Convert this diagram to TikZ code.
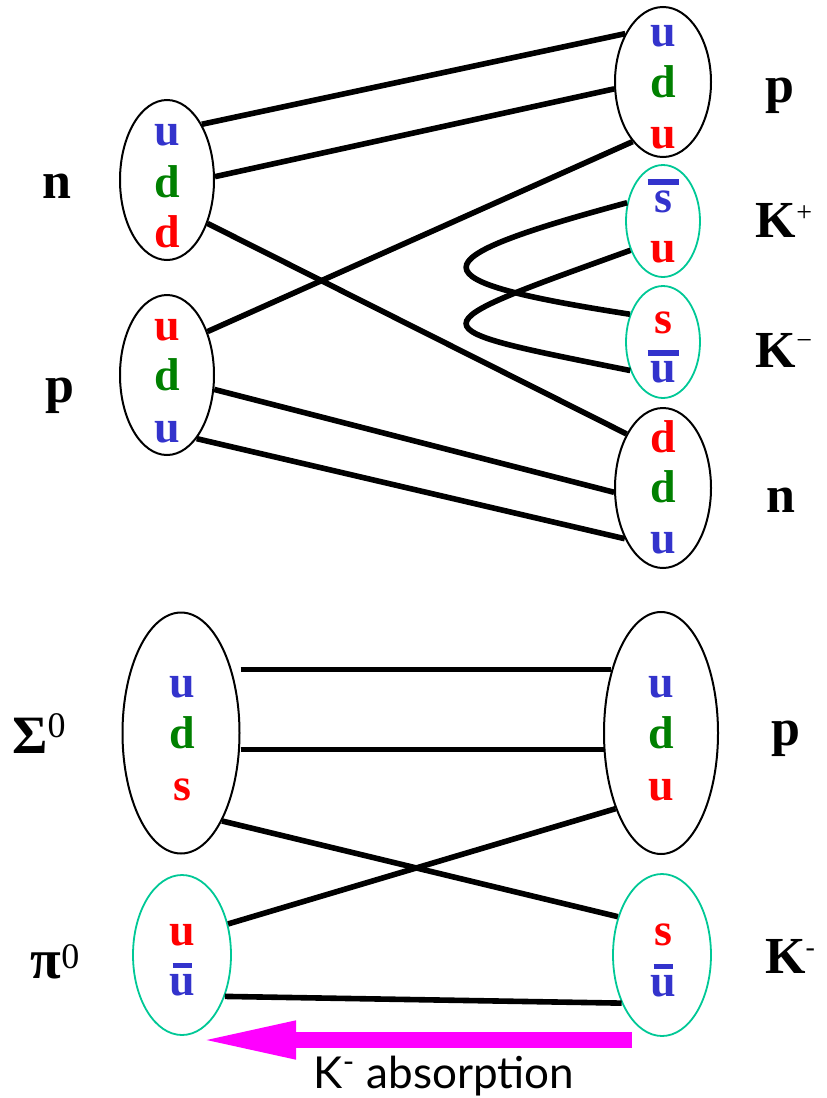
\documentclass[tikz,border=0pt]{standalone}
\usepackage{fontspec}
\setmainfont{Liberation Serif}
\newfontfamily\absfont{Lato}
\usetikzlibrary{arrows.meta,shapes.geometric}
\definecolor{qkblue}{RGB}{51,51,204}
\definecolor{qkgreen}{RGB}{0,128,0}
\definecolor{qkred}{RGB}{255,0,0}
\definecolor{mesteal}{RGB}{0,200,150}
\definecolor{absmagenta}{RGB}{255,0,255}
\newcommand{\quarkfont}{\fontsize{23}{23}\selectfont\bfseries}
\newcommand{\hadfont}{\fontsize{26}{26}\selectfont\bfseries}
\newcommand{\supfont}{\fontsize{14}{14}\selectfont\mdseries}
% letter with a bar over it
\newcommand{\antiq}[4]{\vbox{\offinterlineskip\halign{\hfil##\hfil\cr\rule{#2}{#3}\cr\noalign{\kern#4}#1\cr}}}
\newcommand{\wbar}[1]{\antiq{#1}{15.5pt}{3pt}{2.5pt}}
\newcommand{\nbar}[1]{\antiq{#1}{9.5pt}{2.5pt}{3pt}}

\begin{document}
\begin{tikzpicture}[x=0.5pt,y=-0.5pt,
  baryon/.style={draw,ellipse,line width=1pt,inner sep=0pt},
  meson/.style={draw=mesteal,ellipse,line width=0.9pt,inner sep=0pt},
  quark/.style={font=\quarkfont,anchor=base,inner sep=0pt},
  hlabel/.style={font=\hadfont,anchor=base,inner sep=0pt},
  qline/.style={line width=2.8pt},
  kabs/.style={absmagenta,line width=8pt,-{Triangle[length=50pt,width=17pt]}}]
\useasboundingbox (0,0) rectangle (826,1098);
% Top: n + p -> p + K+ + K- + n
\node[baryon,minimum width=47pt,minimum height=80pt] (nL) at (167,180) {};
\node[baryon,minimum width=47pt,minimum height=80pt] (pL) at (167,375) {};
\node[baryon,minimum width=48pt,minimum height=75pt] (pR) at (663,82) {};
\node[meson,minimum width=37pt,minimum height=56pt] (kpR) at (663,221) {};
\node[meson,minimum width=37pt,minimum height=56pt] (kmR) at (663,342) {};
\node[baryon,minimum width=48pt,minimum height=80pt] (nR) at (663,488) {};
\foreach \x/\y/\c/\t/\nm in {167/145/qkblue/u/nq1,167/197/qkgreen/d/nq2,167/247/qkred/d/nq3,
  167/340/qkred/u/pq1,167/390/qkgreen/d/pq2,167/442/qkblue/u/pq3,
  663/46/qkblue/u/prq1,663/97/qkgreen/d/prq2,663/148/qkred/u/prq3,
  663/212/qkblue/\wbar{s}/kpq1,663/262/qkred/u/kpq2,
  663/333/qkred/s/kmq1,663/382/qkblue/\wbar{u}/kmq2,
  663/452/qkred/d/nrq1,663/502/qkgreen/d/nrq2,663/553/qkblue/u/nrq3}
  {\node[quark,text=\c] (\nm) at (\x,\y) {\t};}
\node[hlabel] (nLab) at (57,198) {n};
\node[hlabel] (pLab) at (60,402) {p};
\node[hlabel] (prLab) at (780,102) {p};
\node[hlabel] (kpLab) at (784,237) {K\raisebox{8pt}{\supfont +}};
\node[hlabel] (kmLab) at (784,367) {K\raisebox{9pt}{\supfont −}};
\node[hlabel] (nrLab) at (781,512) {n};
% quark lines
\draw[qline] (nL.58) -- (pR.128);
\draw[qline] (nL.4) -- (pR.188);
\draw[qline] (nL.-47) -- (nR.124);
\draw[qline] (pL.47) -- (pR.243);
\draw[qline] (pL.-17) -- (nR.185);
\draw[qline] (pL.-65) -- (nR.233);
\draw[qline] (kpR.153) .. controls +(-215,58) and +(-218,-34) .. (kmR.140);
\draw[qline] (kpR.222) .. controls +(-219,79) and +(-219,-44) .. (kmR.221);
% Bottom: K- + p -> Sigma0 + pi0
\node[baryon,minimum width=58.5pt,minimum height=120.5pt] (sigL) at (181,733) {};
\node[baryon,minimum width=57pt,minimum height=121pt] (pB) at (661,733) {};
\node[meson,minimum width=49pt,minimum height=80pt] (piL) at (182,955) {};
\node[meson,minimum width=49pt,minimum height=81pt] (kB) at (662,955) {};
\foreach \x/\y/\c/\t/\nm in {182/697/qkblue/u/sq1,182/748/qkgreen/d/sq2,182/800/qkred/s/sq3,
  661/697/qkblue/u/pbq1,661/748/qkgreen/d/pbq2,661/800/qkred/u/pbq3,
  182/945/qkred/u/piq1,182/995/qkblue/\nbar{u}/piq2,
  663/945/qkred/s/kbq1,663/996/qkblue/\nbar{u}/kbq2}
  {\node[quark,text=\c] (\nm) at (\x,\y) {\t};}
\node[hlabel] (sigLab) at (39,753) {\fontsize{27}{27}\selectfont Σ\raisebox{8pt}{\fontsize{18}{18}\selectfont\mdseries 0}};
\node[hlabel] (piLab) at (55,978) {\fontsize{28}{28}\selectfont π\raisebox{5pt}{\fontsize{18}{18}\selectfont\mdseries 0}};
\node[hlabel] (pbLab) at (786,745) {p};
\node[hlabel] (kbLab) at (790,973) {K\raisebox{8.5pt}{\supfont -}};
\draw[qline] (sigL.east |- pB.128) -- (pB.128);
\draw[qline] (sigL.east |- pB.196) -- (pB.196);
\draw[qline] (sigL.-65) -- (kB.139);
\draw[qline] (piL.34) -- (pB.239);
\draw[qline] (piL.-44) -- (kB.230);
% K- absorption arrow
\coordinate (arrS) at (632,1040);
\coordinate (arrE) at (196,1040);
\draw[kabs] (arrS) -- (arrE);
\node[font=\absfont\fontsize{22}{22}\selectfont,anchor=base,inner sep=0pt] (absLab) at (444,1088) {K\textsuperscript{-} absorption};
\end{tikzpicture}
\end{document}
